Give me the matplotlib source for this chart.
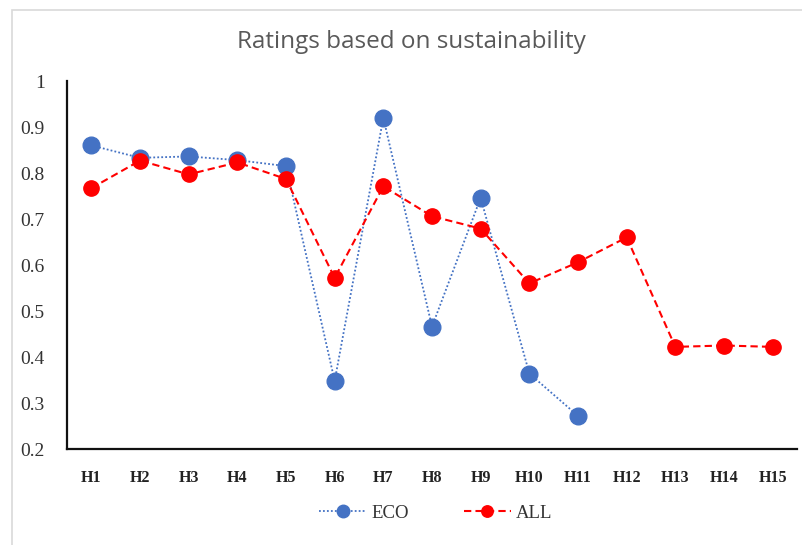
import matplotlib
matplotlib.use("Agg")
import matplotlib.pyplot as plt
from matplotlib.patches import Rectangle

categories = ["H1", "H2", "H3", "H4", "H5", "H6", "H7", "H8", "H9", "H10",
              "H11", "H12", "H13", "H14", "H15"]
eco = [0.860, 0.833, 0.836, 0.828, 0.815, 0.348, 0.920, 0.466, 0.746, 0.364, 0.272]
all_vals = [0.767, 0.827, 0.797, 0.823, 0.787, 0.572, 0.771, 0.706, 0.679, 0.560,
            0.606, 0.660, 0.422, 0.425, 0.422]
yticks = [0.2, 0.3, 0.4, 0.5, 0.6, 0.7, 0.8, 0.9, 1.0]
ytick_labels = ["0.2", "0.3", "0.4", "0.5", "0.6", "0.7", "0.8", "0.9", "1"]

fig = plt.figure(figsize=(8.03, 5.45), dpi=100)
fig.patches.append(Rectangle((12/803, -0.5), 2, 1.5 - 10/545, transform=fig.transFigure,
                             fill=False, edgecolor="#d9d9d9", linewidth=1.2))
ax = fig.add_axes([67/803, 96/545, 730/803, 368/545])

x = list(range(len(categories)))
ax.plot(x[:len(eco)], eco, linestyle=(0, (1, 1.2)), color="#4472C4", linewidth=1.3,
        marker="o", markersize=12, markerfacecolor="#4472C4", markeredgecolor="#4472C4",
        label="ECO")
ax.plot(x, all_vals, linestyle=(0, (3.5, 2)), color="#FF0000", linewidth=1.5,
        marker="o", markersize=11, markerfacecolor="#FF0000", markeredgecolor="#FF0000",
        label="ALL")

ax.set_xlim(-0.5, len(categories) - 0.5)
ax.set_ylim(0.2, 1.0)
ax.set_xticks(x)
ax.set_xticklabels(categories, fontfamily="Liberation Serif", fontweight="bold",
                   fontsize=11.5, color="#222222")
ax.set_yticks(yticks)
ax.set_yticklabels(ytick_labels, fontfamily="Liberation Serif", fontsize=14,
                   color="#333333")
ax.tick_params(axis="both", length=0)
ax.tick_params(axis="x", pad=15)
ax.tick_params(axis="y", pad=16)
for s in ["top", "right"]:
    ax.spines[s].set_visible(False)
for s in ["left", "bottom"]:
    ax.spines[s].set_color("#111111")
    ax.spines[s].set_linewidth(1.6)

fig.text(411/803, 1 - 42/545, "Ratings based on sustainability", ha="center", va="center",
         fontfamily="Open Sans", fontsize=17.5, color="#595959")

leg = fig.legend(loc="center", bbox_to_anchor=(436/803, 1 - 513/545), ncol=2,
                 frameon=False, prop={"family": "Liberation Serif", "size": 13.5},
                 columnspacing=2.9, handlelength=2.5, markerscale=0.75, handletextpad=0.3)
for t in leg.get_texts():
    t.set_color("#333333")

fig.savefig("out.png", dpi=100)
